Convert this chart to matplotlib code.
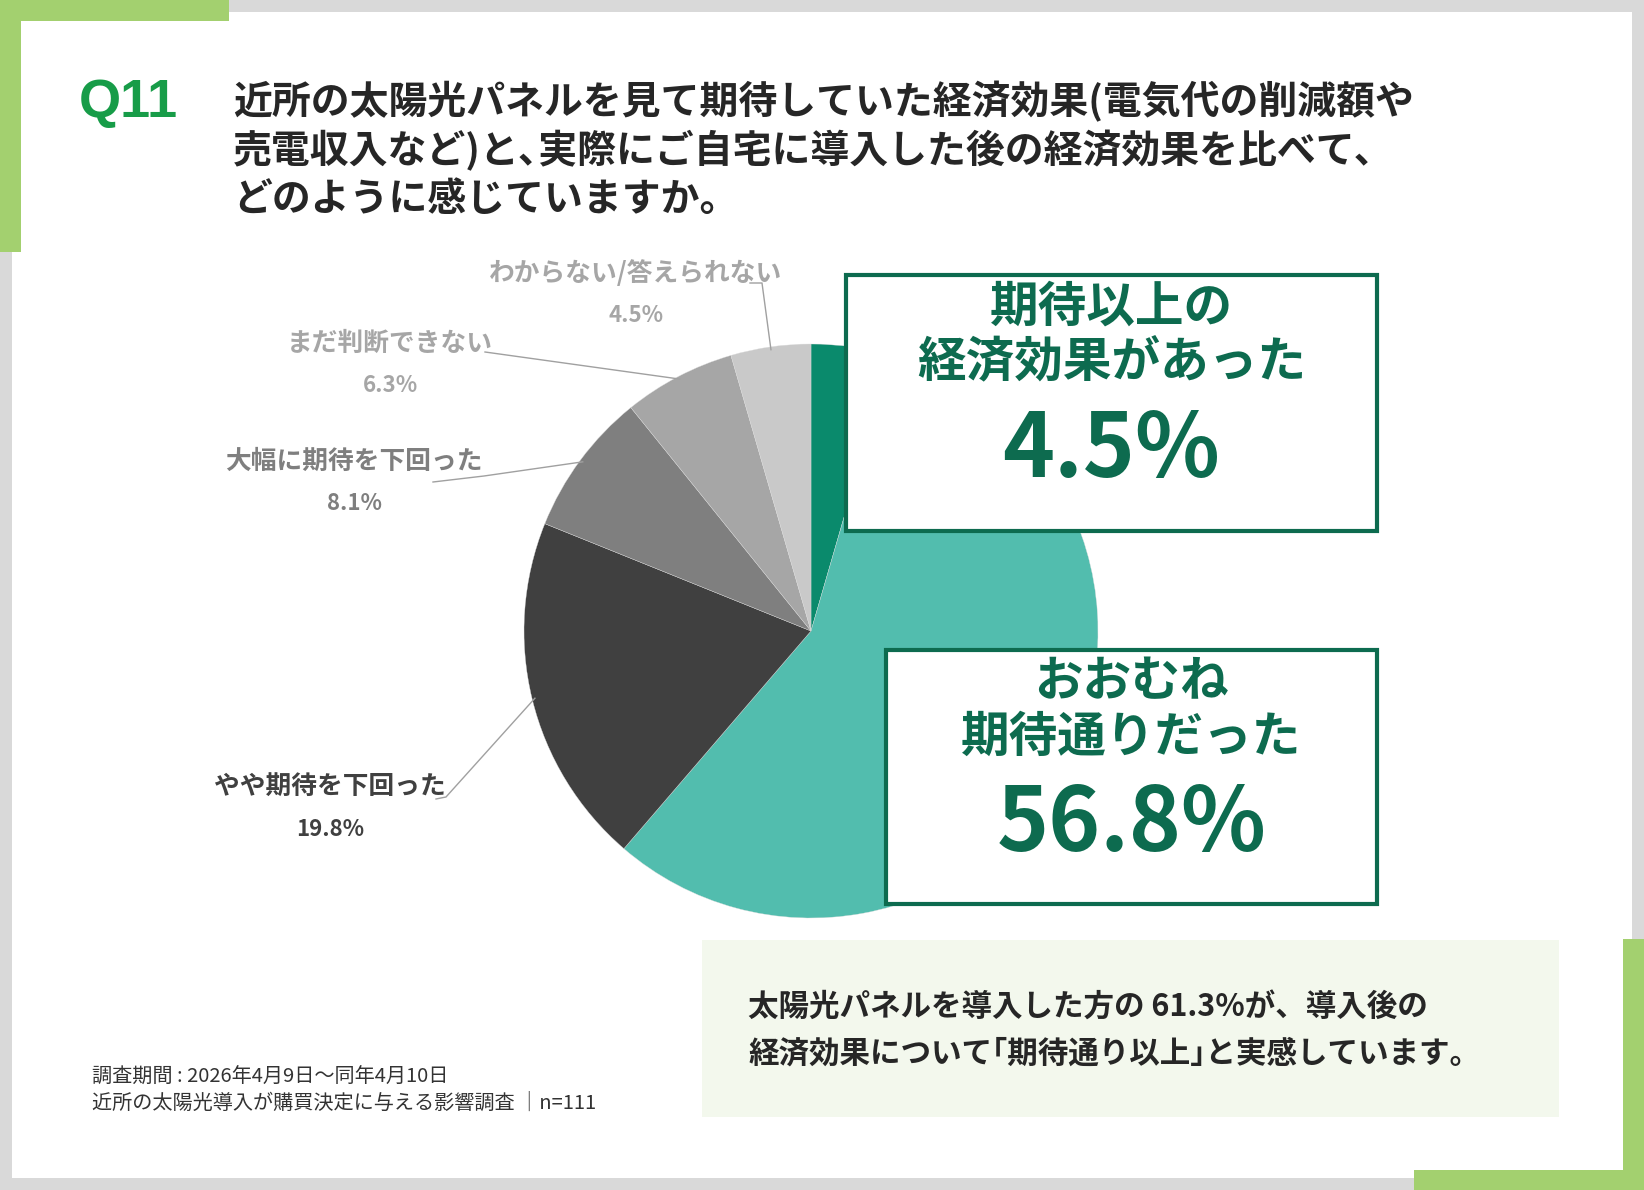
import numpy as np
import matplotlib
matplotlib.use("Agg")
import matplotlib.pyplot as plt
from matplotlib.patches import Rectangle

plt.rcParams['font.family'] = ['Noto Sans CJK JP', 'DejaVu Sans']

# ---- data ----
categories = ['期待以上の経済効果があった', 'おおむね期待通りだった', 'やや期待を下回った',
              '大幅に期待を下回った', 'まだ判断できない', 'わからない/答えられない']
values = [4.5, 56.8, 19.8, 8.1, 6.3, 4.5]
slice_colors = ['#0a8a6c', '#52bdae', '#404040', '#7f7f7f', '#a6a6a6', '#c9c9c9']
label_colors = [None, None, '#404040', '#7f7f7f', '#a6a6a6', '#a6a6a6']
box_labels = ['期待以上の\n経済効果があった', 'おおむね\n期待通りだった']

title_q = 'Q11'
title_lines = ['近所の太陽光パネルを見て期待していた経済効果(電気代の削減額や',
               '売電収入など)と､実際にご自宅に導入した後の経済効果を比べて､',
               'どのように感じていますか。']
summary_lines = ['太陽光パネルを導入した方の 61.3%が、導入後の',
                 '経済効果について｢期待通り以上｣と実感しています。']
footer_lines = ['調査期間 : 2026年4月9日～同年4月10日',
                '近所の太陽光導入が購買決定に与える影響調査 │n=111']

W, H = 1644, 1190
fig = plt.figure(figsize=(W / 100, H / 100), dpi=100)
fig.patch.set_facecolor('#d9d9d9')

# background axes (pixel coordinates)
bg = fig.add_axes([0, 0, 1, 1], zorder=0)
bg.set_xlim(0, W); bg.set_ylim(H, 0); bg.axis('off')
green = '#a3d06f'
bg.add_patch(Rectangle((12, 12), 1620, 1166, facecolor='white', edgecolor='none'))
bg.add_patch(Rectangle((0, 0), 229, 21, facecolor=green, edgecolor='none'))
bg.add_patch(Rectangle((0, 0), 21, 252, facecolor=green, edgecolor='none'))
bg.add_patch(Rectangle((1623, 939), 21, 251, facecolor=green, edgecolor='none'))
bg.add_patch(Rectangle((1414, 1170), 230, 20, facecolor=green, edgecolor='none'))

# pie axes
cx, cy, r = 811, 631, 287
pax = fig.add_axes([(cx - r) / W, (H - cy - r) / H, 2 * r / W, 2 * r / H], zorder=1)
pax.pie(values, colors=slice_colors, startangle=90, counterclock=False, radius=1,
        wedgeprops=dict(linewidth=0.25, edgecolor='#dddddd'))
pax.set_xlim(-1, 1); pax.set_ylim(-1, 1)
pax.axis('off')

# foreground axes
fg = fig.add_axes([0, 0, 1, 1], zorder=2)
fg.set_xlim(0, W); fg.set_ylim(H, 0); fg.axis('off')
fg.patch.set_alpha(0)

# title
fg.text(79, 103, title_q, fontsize=39, fontweight='bold', color='#179c48',
        family=['Liberation Sans', 'DejaVu Sans'], va='center', ha='left')
for y, line in zip([102, 151, 199], title_lines):
    fg.text(233, y, line, fontsize=28, fontweight='bold', color='#262626', va='center', ha='left')

# leader geometry from data
vals = np.array(values)
cum = np.cumsum(vals) - vals / 2
theta = 2 * np.pi * cum / vals.sum()
ex = cx + r * 0.99 * np.sin(theta)
ey = cy - r * 0.99 * np.cos(theta)

lab_pos = {2: (330, 786), 3: (354, 461), 4: (390, 343), 5: (636, 273)}
lead_start = {2: [(436, 799), (446, 797)], 3: [(433, 482), (484, 476)],
              4: [(485, 352)], 5: [(750, 283), (762, 283)]}
for i, (lx, ly) in lab_pos.items():
    fg.text(lx, ly, categories[i], fontsize=18.5, fontweight='bold', color=label_colors[i],
            ha='center', va='center')
    fg.text(lx, ly + 43, f'{values[i]:.1f}%', fontsize=16, fontweight='bold',
            color=label_colors[i], ha='center', va='center')
    pts = lead_start[i] + [(ex[i], ey[i])]
    xs, ys = zip(*pts)
    fg.plot(xs, ys, color='#a0a0a0', lw=1.0, zorder=3)

# highlight boxes
dg = '#0d6b4f'
boxes = [(846, 275, 531, 256), (886, 650, 491, 254)]
line_ys = [(307, 363, 451), (682, 737, 825)]
for k, ((bx, by, bw, bh), ys) in enumerate(zip(boxes, line_ys)):
    fg.add_patch(Rectangle((bx, by), bw, bh, facecolor='white', edgecolor=dg, lw=3, zorder=4))
    mx = bx + bw / 2
    l1, l2 = box_labels[k].split('\n')
    fg.text(mx, ys[0], l1, fontsize=35, fontweight='bold', color=dg, ha='center', va='center', zorder=5)
    fg.text(mx, ys[1], l2, fontsize=35, fontweight='bold', color=dg, ha='center', va='center', zorder=5)
    fg.text(mx, ys[2], f'{values[k]:.1f}%', fontsize=63.5, fontweight='bold', color=dg,
            ha='center', va='center', zorder=5)

# summary box
fg.add_patch(Rectangle((702, 940), 857, 177, facecolor='#f3f8ed', edgecolor='none', zorder=4))
for y, line in zip([1007, 1054], summary_lines):
    fg.text(748, y, line, fontsize=22, fontweight='bold', color='#262626', ha='left', va='center', zorder=5)

# footer
for y, line in zip([1077, 1103], footer_lines):
    fg.text(92, y, line, fontsize=14.5, color='#333333', ha='left', va='center')

fig.savefig('out.png', dpi=100, facecolor=fig.get_facecolor())
